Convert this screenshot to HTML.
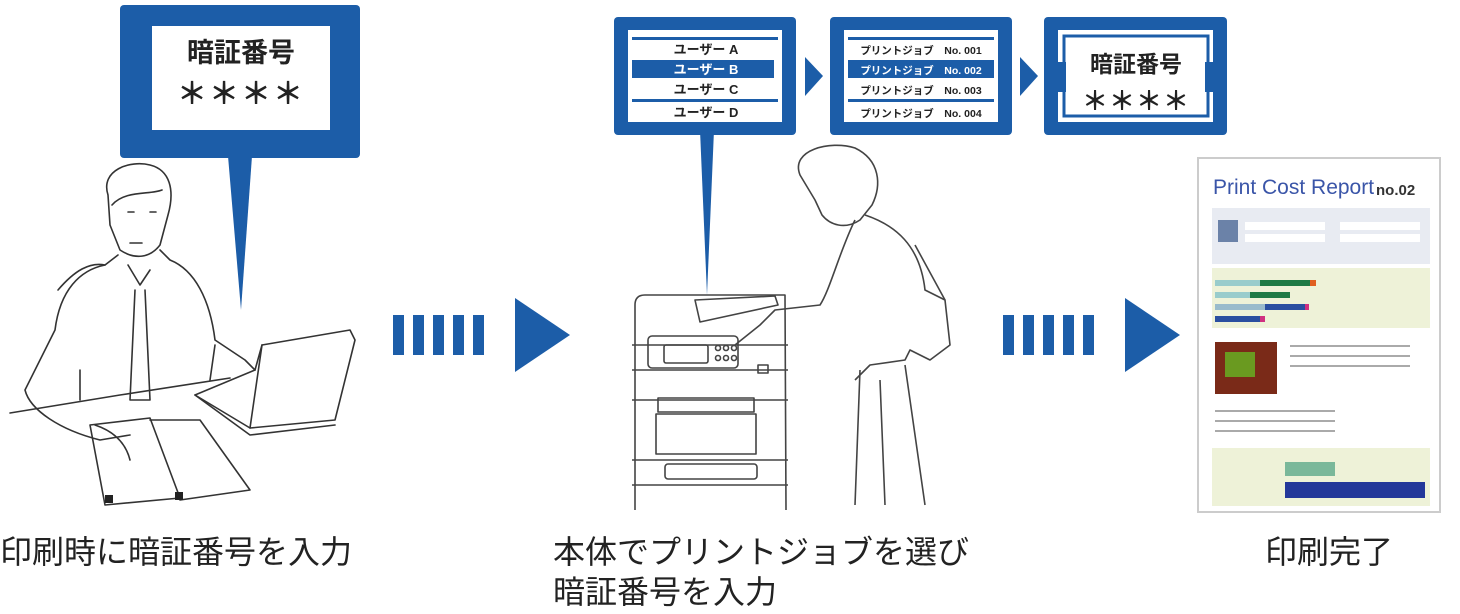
<!DOCTYPE html>
<html><head><meta charset="utf-8"><style>
html,body{margin:0;padding:0;background:#fff;}
body{width:1460px;height:614px;position:relative;overflow:hidden;font-family:"Liberation Sans","Noto Sans CJK JP",sans-serif;}
svg{position:absolute;left:0;top:0;}
.lbl{position:absolute;font-size:32px;color:#222;line-height:40px;white-space:nowrap;}
</style></head><body>
<svg width="1460" height="614" viewBox="0 0 1460 614">
<g fill="#1c5da8">
 <rect x="120" y="5" width="240" height="153" rx="4"/>
 <polygon points="228,156 252,156 241,310"/>
 <polygon points="700,130 714,130 707,295"/>
 <rect x="614" y="17" width="182" height="118" rx="4"/>
 <rect x="830" y="17" width="182" height="118" rx="4"/>
 <rect x="1044" y="17" width="183" height="118" rx="4"/>
 <polygon points="805,57 823,76 805,96"/>
 <polygon points="1020,57 1038,76 1020,96"/>
 <rect x="393" y="315" width="11" height="40"/><rect x="413" y="315" width="11" height="40"/><rect x="433" y="315" width="11" height="40"/><rect x="453" y="315" width="11" height="40"/><rect x="473" y="315" width="11" height="40"/>
 <polygon points="515,298 570,335 515,372"/>
 <rect x="1003" y="315" width="11" height="40"/><rect x="1023" y="315" width="11" height="40"/><rect x="1043" y="315" width="11" height="40"/><rect x="1063" y="315" width="11" height="40"/><rect x="1083" y="315" width="11" height="40"/>
 <polygon points="1125,298 1180,335 1125,372"/>
</g>
<g fill="#fff">
 <rect x="152" y="26" width="178" height="104"/>
 <rect x="628" y="30" width="154" height="92"/>
 <rect x="844" y="30" width="154" height="92"/>
 <rect x="1058" y="30" width="155" height="92"/>
</g>
<g fill="#1c5da8">
 <rect x="632" y="37" width="146" height="3"/>
 <rect x="632" y="60" width="142" height="18"/>
 <rect x="632" y="99" width="146" height="3"/>
 <rect x="848" y="37" width="146" height="3"/>
 <rect x="848" y="60" width="146" height="18"/>
 <rect x="848" y="99" width="146" height="3"/>
 <rect x="1064" y="36" width="144" height="80" fill="none" stroke="#1c5da8" stroke-width="3"/>
 <rect x="1058" y="62" width="8" height="30"/><rect x="1205" y="62" width="8" height="30"/>
</g>
<g font-family="Liberation Sans,Noto Sans CJK JP,sans-serif" font-weight="bold" text-anchor="middle" fill="#222">
 <text x="241" y="62" font-size="27">暗証番号</text>
 <text x="241" y="104" font-size="30" letter-spacing="2">＊＊＊＊</text>
 <text x="706" y="54" font-size="13">ユーザー A</text>
 <text x="706" y="74" font-size="13" fill="#fff">ユーザー B</text>
 <text x="706" y="94" font-size="13">ユーザー C</text>
 <text x="706" y="117" font-size="13">ユーザー D</text>
 <text x="921" y="54" font-size="10.5">プリントジョブ　No. 001</text>
 <text x="921" y="74" font-size="10.5" fill="#fff">プリントジョブ　No. 002</text>
 <text x="921" y="94" font-size="10.5">プリントジョブ　No. 003</text>
 <text x="921" y="117" font-size="10.5">プリントジョブ　No. 004</text>
 <text x="1136" y="72" font-size="23">暗証番号</text>
 <text x="1136" y="110" font-size="26" letter-spacing="1">＊＊＊＊</text>
</g>
<g fill="none" stroke="#333" stroke-width="1.6" stroke-linejoin="round" stroke-linecap="round">
 <path d="M108,195 C100,170 130,160 150,165 C170,170 175,190 168,215 L160,245 C150,258 135,260 120,250 L110,225 Z"/>
 <path d="M112,205 C125,190 150,195 162,190"/>
 <path d="M128,212 l6,0 M150,212 l6,0"/>
 <path d="M130,243 l12,0"/>
 <path d="M118,255 L105,265 C80,270 60,290 55,330 L25,390 C30,410 60,430 100,440 L130,435"/>
 <path d="M160,250 L170,260 C195,270 210,300 215,340 L245,360 L255,370"/>
 <path d="M128,265 L140,285 L150,270 M135,290 L130,400 L150,400 L145,290"/>
 <path d="M58,290 C75,270 90,262 105,265"/>
 <path d="M80,400 L80,370 M215,345 L210,380"/>
 <path d="M10,413 L120,395 L230,378"/>
 <path d="M262,345 L350,330 L355,340 L335,420 L250,428 Z"/>
 <path d="M250,428 L195,395 L255,370 L262,345"/>
 <path d="M195,395 L250,435 L335,425"/>
 <path d="M90,425 L150,418 L180,498 L105,505 Z"/>
 <path d="M150,420 L200,420 L250,490 L180,500"/>
 <path d="M95,425 C110,430 125,440 130,460"/>
</g>
<rect x="105" y="495" width="8" height="8" fill="#222"/><rect x="175" y="492" width="8" height="8" fill="#222"/>
<g fill="none" stroke="#444" stroke-width="1.6" stroke-linejoin="round">
 <path d="M635,510 L635,305 Q635,295 645,295 L785,295 L786,510"/>
 <path d="M632,345 L788,345 M632,370 L788,370 M632,400 L788,400 M632,460 L788,460 M632,485 L788,485"/>
 <rect x="648" y="336" width="90" height="32" rx="4"/>
 <rect x="664" y="345" width="44" height="18" rx="2"/>
 <circle cx="718" cy="348" r="2.5"/><circle cx="726" cy="348" r="2.5"/><circle cx="734" cy="348" r="2.5"/>
 <circle cx="718" cy="358" r="2.5"/><circle cx="726" cy="358" r="2.5"/><circle cx="734" cy="358" r="2.5"/>
 <rect x="758" y="365" width="10" height="8"/>
 <rect x="658" y="398" width="96" height="14"/>
 <rect x="656" y="414" width="100" height="40"/>
 <rect x="665" y="464" width="92" height="15" rx="3"/>
 <path d="M695,300 L775,296 L778,305 L700,322 Z"/>
 <path d="M800,175 C790,150 830,140 855,148 C880,160 882,185 872,205 L860,220 C845,230 830,225 822,215 L815,200 Z"/>
 <path d="M865,215 C895,225 920,245 925,290 L945,300 L950,345 L930,360 L910,350 L905,360 L870,365 L855,380"/>
 <path d="M855,220 C840,250 830,290 820,305 L775,310 L760,325 L735,345"/>
 <path d="M860,370 L855,505 M905,365 L925,505 M880,380 L885,505"/>
 <path d="M915,245 L945,300"/>
</g>
<g>
 <rect x="1198" y="158" width="242" height="354" fill="#fff" stroke="#ccc" stroke-width="2"/>
 <text x="1213" y="194" font-family="Liberation Sans,sans-serif" font-size="21" fill="#3a55a8">Print Cost Report</text>
 <text x="1376" y="195" font-family="Liberation Sans,sans-serif" font-size="15" font-weight="bold" fill="#333">no.02</text>
 <rect x="1212" y="208" width="218" height="56" fill="#e8ebf2"/>
 <rect x="1218" y="220" width="20" height="22" fill="#6b82a8"/>
 <rect x="1245" y="222" width="80" height="8" fill="#fff"/><rect x="1340" y="222" width="80" height="8" fill="#fff"/>
 <rect x="1245" y="234" width="80" height="8" fill="#fff"/><rect x="1340" y="234" width="80" height="8" fill="#fff"/>
 <rect x="1212" y="268" width="218" height="60" fill="#eef2d8"/>
 <rect x="1215" y="280" width="95" height="6" fill="#1e7a45"/><rect x="1215" y="280" width="45" height="6" fill="#9cc"/><rect x="1310" y="280" width="6" height="6" fill="#e06020"/>
 <rect x="1215" y="292" width="75" height="6" fill="#1e7a45"/><rect x="1215" y="292" width="35" height="6" fill="#9cc"/>
 <rect x="1215" y="304" width="92" height="6" fill="#2a4fa0"/><rect x="1215" y="304" width="50" height="6" fill="#9bc"/><rect x="1305" y="304" width="4" height="6" fill="#d03080"/>
 <rect x="1215" y="316" width="48" height="6" fill="#2a4fa0"/><rect x="1260" y="316" width="5" height="6" fill="#d03080"/>
 <rect x="1215" y="342" width="62" height="52" fill="#7a2a18"/>
 <rect x="1225" y="352" width="30" height="25" fill="#6a9a20"/>
 <rect x="1212" y="448" width="218" height="58" fill="#eef2d8"/>
 <rect x="1285" y="462" width="50" height="14" fill="#7ab89a"/>
 <rect x="1285" y="482" width="140" height="16" fill="#23389a"/>
 <g fill="#aaa"><rect x="1290" y="345" width="120" height="2"/><rect x="1290" y="355" width="120" height="2"/><rect x="1290" y="365" width="120" height="2"/><rect x="1215" y="410" width="120" height="2"/><rect x="1215" y="420" width="120" height="2"/><rect x="1215" y="430" width="120" height="2"/></g>
</g>
</svg>
<div class="lbl" style="left:0;top:532px;">印刷時に暗証番号を入力</div>
<div class="lbl" style="left:553px;top:532px;">本体でプリントジョブを選び<br>暗証番号を入力</div>
<div class="lbl" style="left:1265px;top:532px;">印刷完了</div>
</body></html>
